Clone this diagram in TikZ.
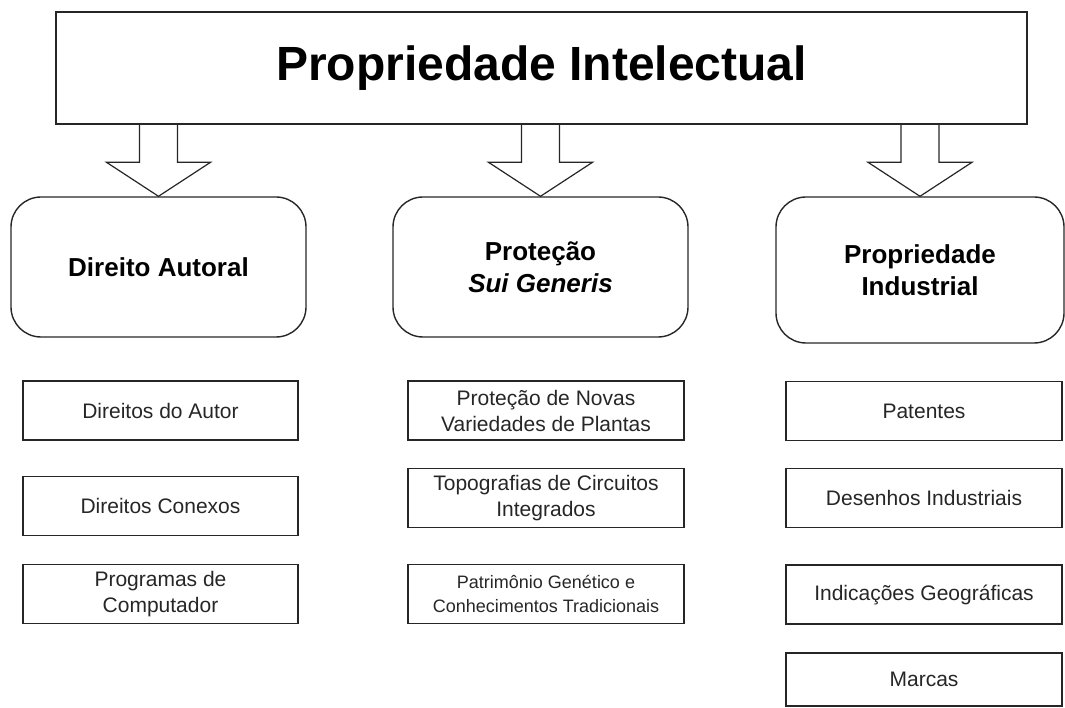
\documentclass[tikz,border=0pt]{standalone}
\usepackage{fontspec}
\setmainfont{Liberation Sans}
\usepackage{tikz}
\usetikzlibrary{calc}

\begin{document}
\begin{tikzpicture}[x=1pt,y=-1pt]
      \tikzset{topbox/.style={draw=black!85, line width=1.5pt,
          inner sep=0pt, minimum width=971pt, minimum height=112pt,
          font=\fontsize{48}{56}\selectfont\bfseries},
        groupbox/.style={draw=black!85, line width=1.4pt, rounded corners=30pt,
          inner sep=0pt, minimum width=295pt, minimum height=140pt, align=center,
          font=\fontsize{26}{32}\selectfont\bfseries},
        itembox/.style={draw=black!85, line width=1.3pt,
          inner sep=0pt, minimum width=276pt, minimum height=59pt, align=center,
          text=black!85, font=\fontsize{21}{26}\selectfont},
        blockarrow/.style={draw=black!85, line width=1.2pt, line join=miter}
      }
      \useasboundingbox (0,0) rectangle (1065,708);

      \node [topbox] (PIntel) at (541.5,68) {Propriedade Intelectual};

      \node [groupbox] (DirAut) at (158.5,267) {Direito Autoral};
      \node [groupbox] (SuiGen) at (540.5,267) {Proteção\\\textit{Sui Generis}};
      \node [groupbox, minimum width=288pt, minimum height=146pt] (PropInd) at (920,270)
        {Propriedade\\Industrial};

      % hollow arrows from the top box
      \draw [blockarrow] ($(DirAut.north |- PIntel.south)+(-19,0)$) -- ($(DirAut.north)+(-19,-34)$)
        -- ($(DirAut.north)+(-52,-34)$) -- (DirAut.north) -- ($(DirAut.north)+(52,-34)$)
        -- ($(DirAut.north)+(19,-34)$) -- ($(DirAut.north |- PIntel.south)+(19,0)$);
      \draw [blockarrow] ($(SuiGen.north |- PIntel.south)+(-19,0)$) -- ($(SuiGen.north)+(-19,-34)$)
        -- ($(SuiGen.north)+(-52,-34)$) -- (SuiGen.north) -- ($(SuiGen.north)+(52,-34)$)
        -- ($(SuiGen.north)+(19,-34)$) -- ($(SuiGen.north |- PIntel.south)+(19,0)$);
      \draw [blockarrow] ($(PropInd.north |- PIntel.south)+(-19,0)$) -- ($(PropInd.north)+(-19,-34)$)
        -- ($(PropInd.north)+(-52,-34)$) -- (PropInd.north) -- ($(PropInd.north)+(52,-34)$)
        -- ($(PropInd.north)+(19,-34)$) -- ($(PropInd.north |- PIntel.south)+(19,0)$);

      \node [itembox, minimum width=275pt] (DAutor) at (160.5,410.5) {Direitos do Autor};
      \node [itembox, minimum width=275pt] (DConex) at (160.5,506) {Direitos Conexos};
      \node [itembox, minimum width=275pt] (ProgComp) at (160.5,594) {Programas de\\Computador};

      \node [itembox] (Plantas) at (546,410.5) {Proteção de Novas\\Variedades de Plantas};
      \node [itembox] (Circuitos) at (546,498) {Topografias de Circuitos\\Integrados};
      \node [itembox, font=\fontsize{18}{24}\selectfont] (PatGen) at (546,594)
        {Patrimônio Genético e\\Conhecimentos Tradicionais};

      \node [itembox] (Patentes) at (924,411) {Patentes};
      \node [itembox] (Desenhos) at (924,498) {Desenhos Industriais};
      \node [itembox] (IndGeo) at (924,594.5) {Indicações Geográficas};
      \node [itembox, minimum height=53pt] (Marcas) at (924,679.5) {Marcas};

    \end{tikzpicture}
\end{document}
